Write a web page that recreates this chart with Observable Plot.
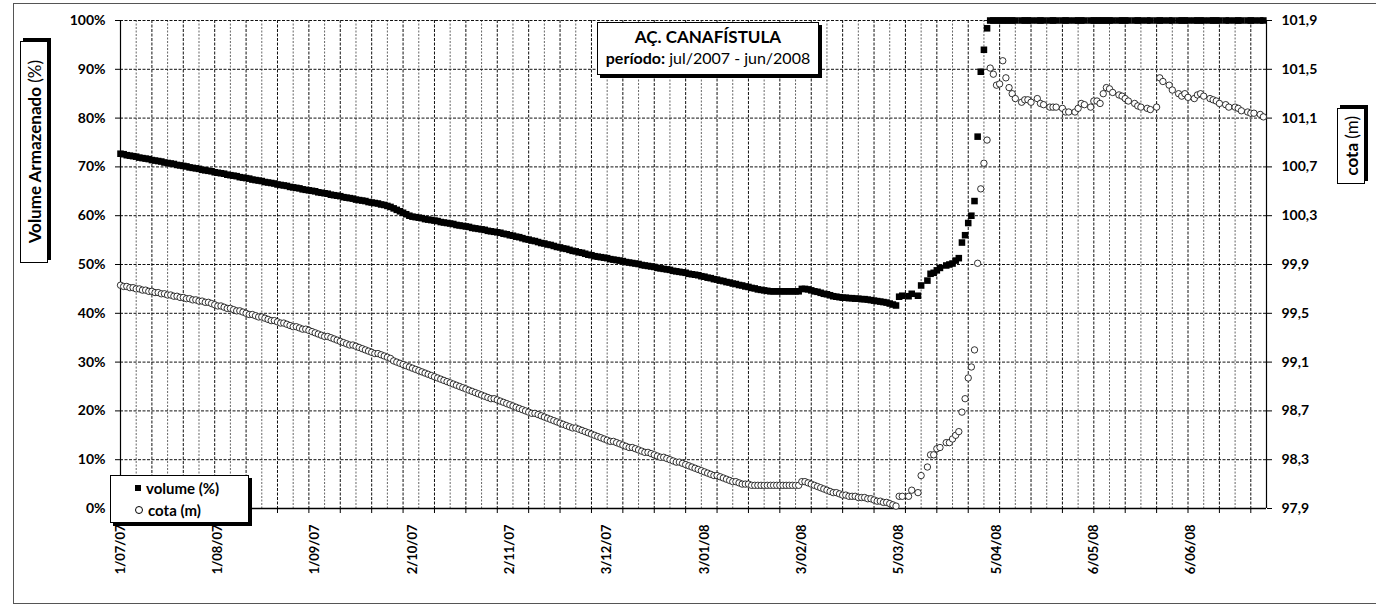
<!DOCTYPE html>
<html><head><meta charset="utf-8">
<script src="https://cdn.jsdelivr.net/npm/d3@7"></script>
<script src="https://cdn.jsdelivr.net/npm/@observablehq/plot@0.6"></script>
<style>
body{margin:0;background:#fff;font-family:Lato,"Open Sans",sans-serif;color:#000;}
#wrap{position:relative;width:1376px;height:605px;overflow:hidden;}
#outer{position:absolute;left:13px;top:3px;width:1400px;height:601px;border:1px solid #555;box-sizing:border-box;}
.box{position:absolute;background:#fff;border:1px solid #000;box-sizing:border-box;}
#title{left:597px;top:22px;width:222px;height:53px;box-shadow:3px 3px 0 #000;text-align:center;}
#title .t1{font-weight:700;font-size:17px;line-height:20px;margin-top:4px;}
#title .t2{font-size:16px;line-height:22px;}
#legend{left:110px;top:475px;width:139px;height:48px;box-shadow:3px 3px 0 #000;font-weight:700;font-size:15px;}
#legend .it{position:absolute;left:24px;display:flex;align-items:center;}
#legend .sq{width:6px;height:6px;background:#000;margin-right:5px;}
#legend .ci{width:6px;height:6px;border:1px solid #000;border-radius:50%;margin-right:5px;box-sizing:border-box;width:8px;height:8px;}
.vt{display:flex;align-items:center;justify-content:center;box-shadow:3px -3px 0 #000;}
.vt span.in{writing-mode:vertical-rl;transform:rotate(180deg);font-size:17px;white-space:nowrap;}
#ltitle{left:20px;top:41px;width:28px;height:222px;}
#rtitle{left:1337px;top:108px;width:28px;height:76px;}
#chart{position:absolute;left:0;top:0;}
</style></head>
<body><div id="wrap"><div id="outer"></div><div id="chart"></div>
<div class="box" id="title"><div class="t1">AÇ. CANAFÍSTULA</div><div class="t2"><b>período:</b> jul/2007 - jun/2008</div></div>
<div class="box vt" id="ltitle"><span class="in"><b>Volume Armazenado</b> (%)</span></div>
<div class="box vt" id="rtitle"><span class="in"><b>cota</b> (m)</span></div>
<div class="box" id="legend"><div class="it" style="top:3px"><span class="sq"></span>volume&nbsp;(%)</div><div class="it" style="top:25px"><span class="ci"></span>cota (m)</div></div>
</div>
<script>
// ---- data ----
const startDate = "2007-07-01"; // first daily reading
// daily readings 1/07/2007 .. 4/03/2008
const volumeDaily = [
72.7,72.6,72.4,72.3,72.2,72.1,71.9,71.8,71.7,71.6,71.4,71.3,71.2,71.1,70.9,70.8,70.7,70.6,70.4,70.3,70.2,70.1,69.9,69.8,69.7,69.6,69.4,69.3,69.2,69.1,68.9,
68.8,68.7,68.6,68.4,68.3,68.2,68.1,67.9,67.8,67.7,67.6,67.4,67.3,67.2,67.1,66.9,66.8,66.7,66.6,66.4,66.3,66.2,66.1,65.9,65.8,65.7,65.6,65.4,65.3,65.2,65.1,
65.0,64.8,64.7,64.6,64.5,64.3,64.2,64.1,64.0,63.8,63.7,63.6,63.5,63.3,63.2,63.1,63.0,62.8,62.7,62.6,62.5,62.3,62.2,62.0,61.8,61.5,61.2,60.9,60.6,60.3,
60.0,59.8,59.7,59.6,59.5,59.3,59.2,59.1,59.0,58.9,58.7,58.6,58.5,58.4,58.3,58.1,58.0,57.9,57.8,57.7,57.5,57.4,57.3,57.2,57.1,56.9,56.8,56.7,56.6,56.5,56.3,
56.2,56.0,55.9,55.7,55.6,55.4,55.2,55.1,54.9,54.8,54.6,54.4,54.3,54.1,54.0,53.8,53.6,53.5,53.3,53.2,53.0,52.8,52.7,52.5,52.4,52.2,52.0,51.9,51.7,51.6,
51.5,51.4,51.3,51.1,51.0,50.9,50.8,50.7,50.5,50.4,50.3,50.2,50.1,49.9,49.8,49.7,49.6,49.5,49.3,49.2,49.1,49.0,48.9,48.7,48.6,48.5,48.4,48.3,48.1,48.0,47.9,
47.8,47.6,47.5,47.3,47.2,47.0,46.9,46.7,46.6,46.4,46.3,46.1,46.0,45.8,45.7,45.5,45.4,45.2,45.1,44.9,44.8,44.7,44.6,44.5,44.5,44.5,44.5,44.5,44.5,44.5,44.5,
44.5,44.5,45.0,45.0,44.9,44.7,44.5,44.4,44.2,44.0,43.9,43.7,43.5,43.4,43.3,43.2,43.2,43.1,43.1,43.0,43.0,42.9,42.9,42.8,42.7,42.6,42.5,42.4,42.3,
42.2,42.0,41.8,41.6];
const cotaDaily = [
99.73,99.72,99.72,99.71,99.71,99.70,99.70,99.69,99.69,99.68,99.68,99.67,99.67,99.66,99.66,99.65,99.65,99.64,99.64,99.63,99.63,99.62,99.62,99.61,99.61,99.60,99.60,99.59,99.59,99.58,99.57,
99.56,99.56,99.55,99.54,99.54,99.53,99.52,99.52,99.51,99.50,99.49,99.49,99.48,99.47,99.47,99.46,99.45,99.44,99.44,99.43,99.42,99.42,99.41,99.40,99.39,99.39,99.38,99.37,99.37,99.36,99.35,
99.34,99.33,99.32,99.31,99.31,99.30,99.29,99.28,99.27,99.26,99.25,99.24,99.24,99.23,99.22,99.21,99.20,99.19,99.18,99.17,99.17,99.16,99.15,99.14,99.13,99.11,99.10,99.09,99.08,99.07,
99.06,99.05,99.04,99.03,99.02,99.01,99.00,98.99,98.98,98.97,98.96,98.95,98.94,98.93,98.92,98.91,98.90,98.89,98.88,98.87,98.86,98.85,98.84,98.83,98.82,98.81,98.80,98.80,98.79,98.78,98.77,
98.76,98.75,98.74,98.73,98.72,98.71,98.70,98.69,98.68,98.68,98.67,98.66,98.65,98.64,98.63,98.62,98.61,98.60,98.59,98.58,98.57,98.56,98.56,98.55,98.54,98.53,98.52,98.51,98.50,98.49,
98.48,98.47,98.46,98.45,98.45,98.44,98.43,98.42,98.41,98.40,98.40,98.39,98.38,98.37,98.36,98.36,98.35,98.34,98.33,98.32,98.32,98.31,98.30,98.29,98.28,98.28,98.27,98.26,98.25,98.24,98.23,
98.22,98.21,98.20,98.19,98.18,98.17,98.17,98.16,98.15,98.14,98.13,98.12,98.12,98.11,98.10,98.10,98.10,98.09,98.09,98.09,98.09,98.09,98.09,98.09,98.09,98.09,98.09,98.09,98.09,98.09,98.09,
98.09,98.09,98.12,98.12,98.11,98.10,98.09,98.08,98.07,98.06,98.05,98.04,98.03,98.03,98.02,98.01,98.01,98.00,98.00,98.00,97.99,97.99,97.99,97.98,97.98,97.97,97.96,97.96,97.95,
97.95,97.94,97.93,97.92];
// readings from 5/03/2008 on
const lateDates = ["2008-03-05","2008-03-06","2008-03-08","2008-03-09","2008-03-11","2008-03-12","2008-03-14","2008-03-15","2008-03-16","2008-03-17","2008-03-18","2008-03-20","2008-03-21","2008-03-22","2008-03-23","2008-03-24","2008-03-25","2008-03-26","2008-03-27","2008-03-28","2008-03-29","2008-03-30","2008-03-31","2008-04-01","2008-04-02",
"2008-04-03","2008-04-04","2008-04-05","2008-04-06","2008-04-07","2008-04-08","2008-04-09","2008-04-10","2008-04-11","2008-04-13","2008-04-14","2008-04-15","2008-04-16","2008-04-18","2008-04-19","2008-04-20","2008-04-22","2008-04-23","2008-04-24","2008-04-26","2008-04-27","2008-04-28","2008-04-30",
"2008-05-01","2008-05-02","2008-05-03","2008-05-05","2008-05-06","2008-05-07","2008-05-08","2008-05-09","2008-05-10","2008-05-11","2008-05-12","2008-05-14","2008-05-15","2008-05-16","2008-05-17","2008-05-19","2008-05-20","2008-05-21","2008-05-23","2008-05-24","2008-05-26","2008-05-27","2008-05-28","2008-05-30","2008-05-31",
"2008-06-02","2008-06-03","2008-06-04","2008-06-05","2008-06-07","2008-06-08","2008-06-09","2008-06-10","2008-06-12","2008-06-13","2008-06-14","2008-06-15","2008-06-17","2008-06-18","2008-06-20","2008-06-21","2008-06-22","2008-06-24","2008-06-25","2008-06-26","2008-06-28","2008-06-29"];
const lateVolume = [43.4,43.6,43.5,44.0,43.6,45.7,46.7,48.1,48.3,48.8,49.3,49.8,50.0,50.2,50.8,51.3,54.5,56.0,58.5,60.0,63.0,76.2,89.5,94.0,98.4,
100,100,100,100,100,100,100,100,100,100,100,100,100,100,100,100,100,100,100,100,100,100,100,
100,100,100,100,100,100,100,100,100,100,100,100,100,100,100,100,100,100,100,100,100,100,100,100,100,
100,100,100,100,100,100,100,100,100,100,100,100,100,100,100,100,100,100,100,100,100,100];
const lateCota = [98.00,98.00,98.00,98.05,98.03,98.17,98.24,98.34,98.34,98.39,98.40,98.44,98.44,98.47,98.50,98.53,98.69,98.80,98.97,99.06,99.20,99.91,100.52,100.73,100.92,
101.51,101.46,101.37,101.38,101.57,101.43,101.35,101.30,101.26,101.23,101.25,101.25,101.23,101.26,101.22,101.21,101.19,101.19,101.19,101.18,101.15,101.15,101.15,
101.18,101.22,101.21,101.19,101.24,101.24,101.22,101.30,101.35,101.34,101.31,101.29,101.28,101.26,101.24,101.22,101.20,101.19,101.18,101.17,101.19,101.43,101.40,101.37,101.33,
101.30,101.28,101.30,101.27,101.26,101.29,101.30,101.28,101.26,101.25,101.24,101.22,101.21,101.19,101.19,101.18,101.16,101.15,101.14,101.14,101.13,101.11];
// axis ticks / labels
const volumeTicks = [0,10,20,30,40,50,60,70,80,90,100];
const cotaTicks = [97.9,98.3,98.7,99.1,99.5,99.9,100.3,100.7,101.1,101.5,101.9];
const dateLabels = ["2007-07-01","2007-08-01","2007-09-01","2007-10-02","2007-11-02","2007-12-03","2008-01-03","2008-02-03","2008-03-05","2008-04-05","2008-05-06","2008-06-06"];
const xDomain = ["2007-07-01","2008-06-30"];

// ---- build ----
const parse = s => new Date(s + "T00:00:00Z");
const start = parse(startDate);
const rows = volumeDaily.map((v, i) => ({date: d3.utcDay.offset(start, i), volume: v, cota: cotaDaily[i]}))
  .concat(lateDates.map((s, i) => ({date: parse(s), volume: lateVolume[i], cota: lateCota[i]})));
const cotaMin = cotaTicks[0], cotaMax = cotaTicks[cotaTicks.length - 1];
const toPct = c => (c - cotaMin) / (cotaMax - cotaMin) * 100;
const d0 = parse(xDomain[0]), d1 = parse(xDomain[1]);
const nDays = d3.utcDay.count(d0, d1);
const grid5 = d3.range(0, nDays + 1, 5).map(i => d3.utcDay.offset(d0, i));
const minor = grid5.filter((d, i) => i % 2 === 1);
const major = grid5.filter((d, i) => i % 2 === 0);

const chart = Plot.plot({
  width: 1376, height: 605,
  marginLeft: 120, marginRight: 110, marginTop: 20, marginBottom: 97,
  style: {fontFamily: "Lato, 'Open Sans', sans-serif", fontWeight: 700, fontSize: "14px", color: "#000", background: "transparent"},
  x: {type: "utc", domain: [d0, d1]},
  y: {domain: [0, 100]},
  marks: [
    Plot.ruleX(minor, {stroke: "#666", strokeWidth: 1, strokeDasharray: "2,1.5"}),
    Plot.ruleX(major, {stroke: "#111", strokeWidth: 1, strokeDasharray: "3,1.5"}),
    Plot.ruleY(volumeTicks, {stroke: "#111", strokeWidth: 1, strokeDasharray: "3,1.5"}),
    Plot.ruleX([d0, d1], {stroke: "#000", strokeWidth: 1.2}),
    Plot.ruleY([0], {stroke: "#000", strokeWidth: 1.5}),
    Plot.axisY(volumeTicks, {anchor: "left", tickSize: 5, tickPadding: 10, tickFormat: d => d + "%", label: null, fontSize: 14}),
    Plot.axisY(cotaTicks.map(toPct), {anchor: "right", tickSize: 5, tickPadding: 10, label: null, fontSize: 14,
      tickFormat: t => (cotaMin + t / 100 * (cotaMax - cotaMin)).toFixed(1).replace(".", ",")}),
    Plot.axisX(major, {anchor: "bottom", tickSize: 5, tickFormat: () => "", label: null}),
    Plot.axisX(dateLabels.map(parse), {anchor: "bottom", tickSize: 0, tickPadding: 16, tickRotate: -90, label: null,
      fontSize: 13, tickFormat: d3.utcFormat("%-d/%m/%y")}),
    Plot.dot(rows, {x: "date", y: "volume", symbol: "square", r: 3.7, fill: "#000", stroke: "none"}),
    Plot.dot(rows, {x: "date", y: d => toPct(d.cota), r: 3.2, fill: "#fff", stroke: "#000", strokeWidth: 0.8})
  ]
});
document.getElementById("chart").appendChild(chart);
</script>
</body></html>
